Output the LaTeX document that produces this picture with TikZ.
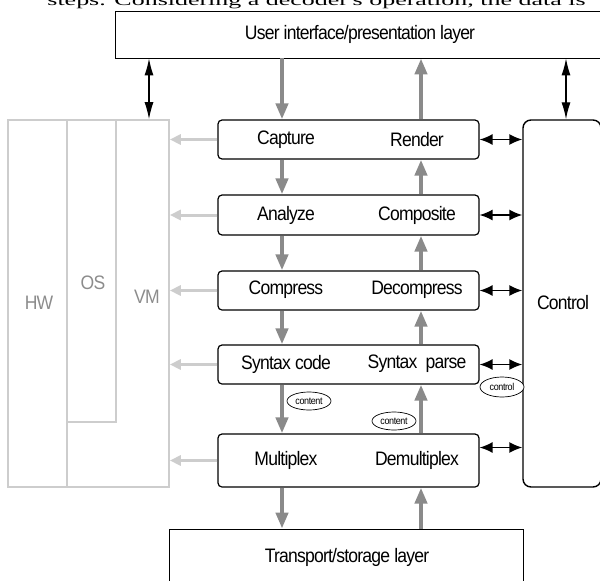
\documentclass[tikz,border=0pt]{standalone}
\usepackage{fontspec}
\setmainfont[LetterSpace=-4,FakeStretch=0.9]{Liberation Sans}
\newfontfamily\serifx{Liberation Serif}
\usetikzlibrary{arrows.meta,shapes.geometric}
\definecolor{darkg}{HTML}{8A8A8A}
\definecolor{lightg}{HTML}{CDCDCD}
\definecolor{textg}{HTML}{8C8C8C}
\tikzset{
  x=1pt, y=-1pt,
  rowbox/.style={draw, rounded corners=4pt, line width=1.2pt, minimum width=261pt, inner sep=0pt},
  layerbox/.style={draw, line width=0.8pt, inner sep=0pt},
  lbl/.style={font=\fontsize{19.5}{21}\selectfont, inner sep=0pt},
  glbl/.style={font=\fontsize{19.5}{21}\selectfont, text=textg, inner sep=0pt},
  tag/.style={draw, ellipse, line width=0.7pt, font=\fontsize{10}{11}\selectfont, inner sep=1pt, minimum width=44pt, minimum height=18pt, fill=white},
  darr/.style={draw=darkg, line width=4pt, -{Triangle[length=16pt,width=12pt]}, color=darkg},
  larr/.style={draw=lightg, line width=3pt, -{Triangle[length=11pt,width=10pt]}, color=lightg},
  barr/.style={draw=black, line width=1.5pt, {Latex[length=13pt,width=11pt]}-{Latex[length=13pt,width=11pt]}},
  varr/.style={draw=black, line width=1.2pt, {Latex[length=17pt,width=9pt]}-{Latex[length=17pt,width=9pt]}},
}
\begin{document}
\begin{tikzpicture}
\useasboundingbox (0,0) rectangle (600,581);
% cropped text line at the top
\node[font=\serifx\fontsize{22}{24}\selectfont, anchor=base, inner sep=0pt] (toptext) at (316.5,5) {\scalebox{1.18}[0.7]{steps. Considering a decoder's operation, the data is}};

% layers
\node[layerbox, minimum width=486pt, minimum height=47pt] (ui) at (358,34.5) {};
\node[lbl] (uitext) at (360,34) {User interface/presentation layer};
\node[layerbox, minimum width=354pt, minimum height=62pt] (ts) at (346,560) {};
\node[lbl] (tstext) at (347,557) {Transport/storage layer};

% HW / OS / VM structure
\node[draw=lightg, line width=1.6pt, minimum width=161pt, minimum height=367pt, inner sep=0pt] (sys) at (88.5,303.5) {};
\draw[lightg, line width=1.6pt] (67,120) -- (67,487);
\draw[lightg, line width=1.6pt] (116,120) -- (116,422) -- (67,422);
\node[glbl] (hw) at (39,303) {HW};
\node[glbl] (os) at (93,283) {OS};
\node[glbl] (vm) at (147,297) {VM};

% Control
\node[draw, rounded corners=8pt, line width=1.4pt, minimum width=78pt, minimum height=367pt, inner sep=0pt] (ctrl) at (562,303.5) {};
\node[lbl] (ctrltext) at (563,303) {Control};

% rows
\node[rowbox, minimum height=39pt] (cap) at (348.5,139.5) {};
\node[rowbox, minimum height=40pt] (ana) at (348.5,215) {};
\node[rowbox, minimum height=39pt] (cmp) at (348.5,290.5) {};
\node[rowbox, minimum height=39pt] (syn) at (348.5,364.5) {};
\node[rowbox, minimum height=53pt] (mux) at (348.5,460.5) {};

\node[lbl] (t1) at (286,140) {Capture};
\node[lbl] (t2) at (417,140) {Render};
\node[lbl] (t3) at (286,215) {Analyze};
\node[lbl] (t4) at (417,215) {Composite};
\node[lbl] (t5) at (286,290) {Compress};
\node[lbl] (t6) at (417,290) {Decompress};
\node[lbl] (t7) at (286,364) {Syntax code};
\node[lbl] (t8) at (417,364) {Syntax\ \ parse};
\node[lbl] (t9) at (286,460) {Multiplex};
\node[lbl] (t10) at (417,460) {Demultiplex};

% x positions of the data paths
\coordinate (xL) at (282,0);
\coordinate (xR) at (421,0);
\coordinate (xV) at (149,0);
\coordinate (xC) at (566,0);

% dark grey data arrows
\draw[darr] (ui.south -| xL) -- (cap.north -| xL);
\draw[darr] (cap.south -| xL) -- (ana.north -| xL);
\draw[darr] (ana.south -| xL) -- (cmp.north -| xL);
\draw[darr] (cmp.south -| xL) -- (syn.north -| xL);
\draw[darr] (syn.south -| xL) -- (mux.north -| xL);
\draw[darr] (mux.south -| xL) -- (ts.north -| xL);

\draw[darr] (ts.north -| xR) -- (mux.south -| xR);
\draw[darr] (mux.north -| xR) -- (syn.south -| xR);
\draw[darr] (syn.north -| xR) -- (cmp.south -| xR);
\draw[darr] (cmp.north -| xR) -- (ana.south -| xR);
\draw[darr] (ana.north -| xR) -- (cap.south -| xR);
\draw[darr] (cap.north -| xR) -- (ui.south -| xR);

% light grey arrows to VM
\draw[larr] (cap.west) -- (cap.west -| sys.east);
\draw[larr] (ana.west) -- (ana.west -| sys.east);
\draw[larr] (cmp.west) -- (cmp.west -| sys.east);
\draw[larr] (syn.west) -- (syn.west -| sys.east);
\draw[larr] (mux.west) -- (mux.west -| sys.east);

% black arrows to control
\draw[barr] (cap.east) -- (cap.east -| ctrl.west);
\draw[barr] (ana.east) -- (ana.east -| ctrl.west);
\draw[barr] (cmp.east) -- (cmp.east -| ctrl.west);
\draw[barr] (syn.east) -- (syn.east -| ctrl.west);
\draw[barr] ([yshift=13pt]mux.east) -- ([yshift=13pt]mux.east -| ctrl.west);

% vertical black arrows
\draw[varr] (ui.south -| xV) -- (sys.north -| xV);
\draw[varr] (ui.south -| xC) -- (ctrl.north -| xC);

% tags
\node[tag] (c1) at (309,401) {content};
\node[tag] (c2) at (394,421) {content};
\node[tag, minimum height=20pt] (c3) at (502,387) {control};
\end{tikzpicture}
\end{document}
